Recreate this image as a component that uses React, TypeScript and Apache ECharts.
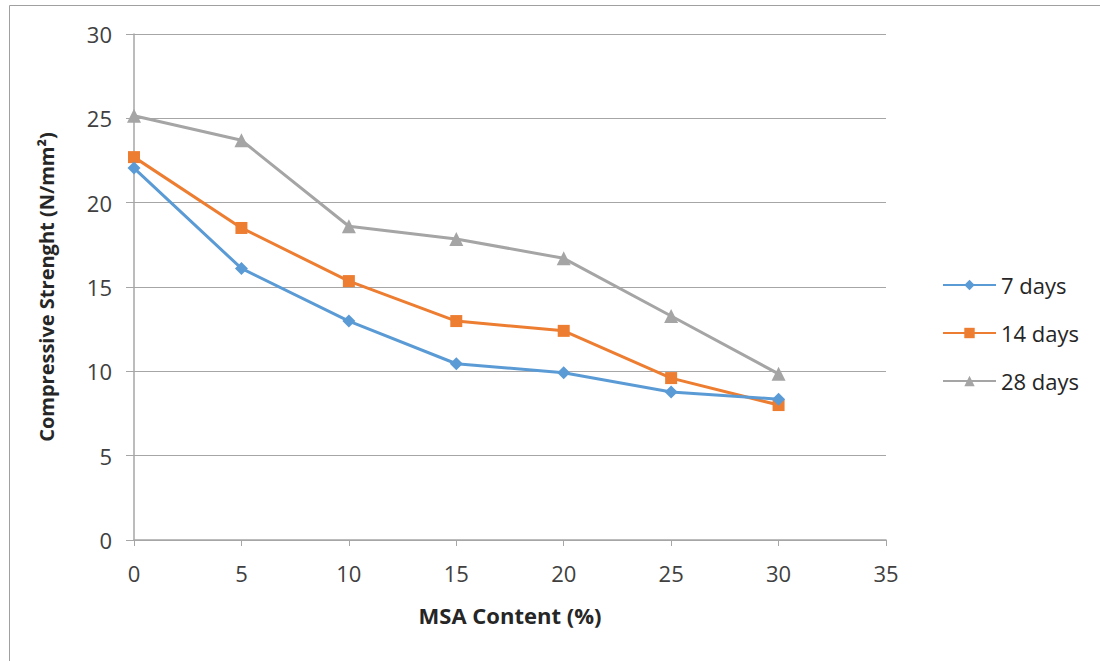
import React, { useEffect, useRef } from "react";
import * as echarts from "echarts";

const xValues = [0, 5, 10, 15, 20, 25, 30];
const days7 = [22.05, 16.1, 12.98, 10.45, 9.92, 8.78, 8.35];
const days14 = [22.7, 18.5, 15.35, 12.98, 12.4, 9.6, 8.0];
const days28 = [25.15, 23.7, 18.6, 17.85, 16.7, 13.28, 9.85];
const seriesNames = ["7 days", "14 days", "28 days"];
const colors = ["#5b9bd5", "#ed7d31", "#a5a5a5"];

const FONT = "'Open Sans', Lato, sans-serif";

export default function App() {
  const ref = useRef<HTMLDivElement>(null);
  useEffect(() => {
    if (!ref.current) return;
    const chart = echarts.init(ref.current, undefined, { renderer: "svg" });
    const mk = (arr: number[]) => xValues.map((x, i) => [x, arr[i]]);
    const symbols = ["diamond", "rect", "triangle"];
    const sizes = [13, 12, 14];
    const data = [days7, days14, days28];
    chart.setOption({
      animation: false,
      backgroundColor: "#ffffff",
      textStyle: { fontFamily: FONT },
      graphic: [
        {
          type: "rect",
          shape: { x: 9.5, y: 5.5, width: 1200, height: 700 },
          style: { fill: "none", stroke: "#a0a0a0", lineWidth: 1 },
          silent: true,
        },
      ],
      grid: { left: 134, right: 214, top: 34, bottom: 121, containLabel: false },
      legend: {
        orient: "vertical",
        left: 937,
        top: 269,
        itemWidth: 53,
        itemHeight: 13,
        itemGap: 26,
        data: seriesNames,
        textStyle: { fontFamily: FONT, fontSize: 22, color: "#262626", padding: [0, 0, 0, 0] },
      },
      xAxis: {
        type: "value",
        min: 0,
        max: 35,
        interval: 5,
        name: "MSA Content (%)",
        nameLocation: "middle",
        nameGap: 64,
        nameTextStyle: { fontFamily: FONT, fontSize: 22, fontWeight: "bold", color: "#262626" },
        axisLine: { show: true, lineStyle: { color: "#a6a6a6", width: 1.5 } },
        axisTick: { show: true, length: 6, lineStyle: { color: "#a6a6a6" } },
        axisLabel: { fontFamily: FONT, fontSize: 22, color: "#404040", margin: 22 },
        splitLine: { show: false },
      },
      yAxis: {
        type: "value",
        min: 0,
        max: 30,
        interval: 5,
        name: "Compressive Strenght (N/mm²)",
        nameLocation: "middle",
        nameGap: 78,
        nameTextStyle: { fontFamily: FONT, fontSize: 20, fontWeight: "bold", color: "#262626" },
        axisLine: { show: true, lineStyle: { color: "#a6a6a6", width: 1.5 } },
        axisTick: { show: true, length: 8, lineStyle: { color: "#a6a6a6" } },
        axisLabel: { fontFamily: FONT, fontSize: 22, color: "#404040", margin: 22 },
        splitLine: { show: true, lineStyle: { color: "#a6a6a6", width: 1.2 } },
      },
      series: seriesNames.map((name, i) => ({
        name,
        type: "line",
        data: mk(data[i]),
        symbol: symbols[i],
        symbolSize: sizes[i],
        showAllSymbol: true,
        lineStyle: { color: colors[i], width: 3 },
        itemStyle: { color: colors[i] },
        z: i === 0 ? 4 : i === 1 ? 3 : 2,
      })),
    });
    return () => chart.dispose();
  }, []);
  return (
    <div
      ref={ref}
      style={{ position: "fixed", left: 0, top: 0, width: 1100, height: 661 }}
    />
  );
}
